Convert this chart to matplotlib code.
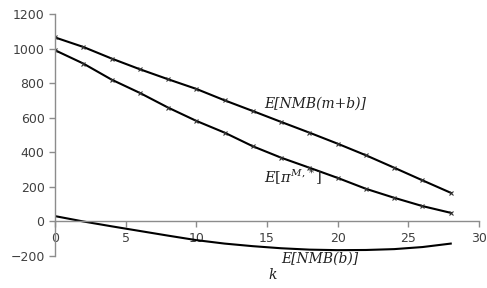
import numpy as np
import matplotlib
matplotlib.use("Agg")
import matplotlib.pyplot as plt

plt.rcParams['mathtext.fontset'] = 'dejavuserif'

# values
k = [0, 2, 4, 6, 8, 10, 12, 14, 16, 18, 20, 22, 24, 26, 28]
nmb_mb = [1065, 1010, 943, 881, 823, 767, 701, 639, 576, 514, 450, 383, 311, 238, 166]
pi_m = [991, 914, 821, 744, 659, 582, 514, 435, 369, 311, 252, 189, 137, 89, 50]
nmb_b = [31, 0, -28, -55, -82, -108, -128, -143, -155, -163, -166, -165, -160, -148, -128]

fig = plt.figure(figsize=(4.87, 2.88), dpi=100)
ax = fig.add_axes([0.113, 0.111, 0.8706, 0.840])

ax.plot(k, nmb_mb, color='black', lw=1.5, marker='x', ms=3.5, mew=0.8, mec='#333333')
ax.plot(k, pi_m, color='black', lw=1.5, marker='x', ms=3.5, mew=0.8, mec='#333333')
ax.plot(k, nmb_b, color='black', lw=1.5)

ax.set_xlim(0, 30)
ax.set_ylim(-200, 1200)
ax.set_xticks(range(0, 31, 5))
ax.set_yticks(range(-200, 1201, 200))

ax.spines['top'].set_visible(False)
ax.spines['right'].set_visible(False)
ax.spines['bottom'].set_position(('data', 0))
for s in ('left', 'bottom'):
    ax.spines[s].set_color('#8c8c8c')
    ax.spines[s].set_linewidth(1.0)
ax.tick_params(colors='#8c8c8c', labelcolor='#404040', labelsize=9, length=4, width=1.0)

txt = dict(fontsize=10, family='DejaVu Serif', style='italic', color='#202020')
ax.text(14.8, 660, 'E[NMB(m+b)]', **txt)
ax.text(14.8, 222, r'$E[\pi^{M,*}]$', fontsize=10.5, color='#202020')
ax.text(16.0, -240, 'E[NMB(b)]', **txt)
ax.text(15.1, -335, 'k', **txt)

fig.savefig('out.png', dpi=100)
